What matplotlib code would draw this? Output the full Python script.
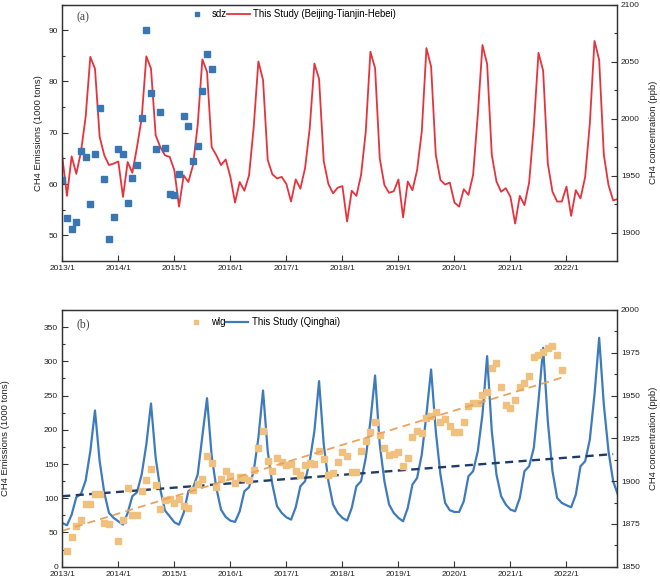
import numpy as np
import matplotlib
matplotlib.use("Agg")
import matplotlib.pyplot as plt
from matplotlib.ticker import MultipleLocator, FixedLocator, NullLocator

plt.rcParams['font.family'] = ['Liberation Sans', 'DejaVu Sans']

# ---------------- data ----------------
months = np.arange(120)  # 2013/1 ... 2022/12
year_ticks = [0, 12, 24, 36, 48, 60, 72, 84, 96, 108]
year_labels = ["2013/1", "2014/1", "2015/1", "2016/1", "2017/1",
               "2018/1", "2019/1", "2020/1", "2021/1", "2022/1"]

# Panel (a): Beijing-Tianjin-Hebei emissions (1000 tons)
bth_emis = [65.3, 57.7, 65.4, 62.0, 66.3, 73.1, 84.8, 82.5, 69.2, 65.6, 63.7, 64.0,
            64.4, 57.5, 64.3, 62.2, 67.2, 72.8, 84.9, 82.5, 69.5, 67.2, 65.6, 65.3,
            62.7, 55.6, 61.7, 60.4, 63.7, 71.5, 84.3, 81.9, 67.2, 65.6, 63.7, 64.8,
            61.4, 56.4, 60.4, 58.7, 61.7, 71.1, 83.9, 80.3, 64.7, 61.9, 61.1, 61.4,
            60.0, 56.6, 60.9, 59.1, 63.1, 70.9, 83.5, 80.5, 64.5, 60.0, 58.2, 59.3,
            59.6, 52.7, 58.7, 57.7, 61.8, 70.2, 85.8, 82.6, 65.0, 59.8, 58.3, 58.6,
            60.9, 53.5, 60.5, 58.8, 62.7, 70.2, 86.5, 82.9, 65.7, 60.8, 59.9, 60.3,
            56.4, 55.6, 59.0, 57.9, 61.8, 73.5, 87.1, 83.4, 65.7, 60.5, 58.5, 59.2,
            57.5, 52.3, 57.7, 55.9, 60.3, 71.2, 85.6, 82.1, 64.0, 58.5, 56.6, 56.6,
            59.5, 53.8, 58.8, 57.2, 61.4, 71.8, 87.9, 84.2, 65.7, 59.8, 56.8, 57.1]

# sdz station concentration (ppb)
sdz_month = list(range(33))
sdz_conc = [1946.0, 1912.4, 1903.4, 1909.2, 1971.8, 1965.9, 1925.4, 1969.1, 2009.1,
            1946.6, 1893.9, 1913.7, 1973.1, 1969.1, 1925.9, 1947.9, 1959.6, 2000.6,
            2077.5, 2022.6, 1973.1, 2005.5, 1974.0, 1933.5, 1932.6, 1951.5, 2001.9,
            1993.4, 1962.8, 1975.8, 2024.4, 2056.8, 2043.8]

# Panel (b): Qinghai emissions (1000 tons)
qh_emis = [64.0, 60.5, 76.1, 101.5, 106.3, 125.8, 168.7, 228.2, 154.1, 107.8, 78.6, 71.3,
           66.4, 61.5, 78.6, 103.0, 108.8, 134.6, 178.5, 238.4, 159.0, 112.7, 82.0, 73.7,
           64.9, 61.5, 78.6, 110.2, 115.1, 134.6, 190.6, 246.2, 161.4, 115.1, 83.4, 72.7,
           67.3, 65.4, 81.0, 110.2, 116.1, 139.5, 188.2, 257.4, 168.7, 120.0, 88.3, 78.6,
           72.2, 68.8, 86.8, 117.6, 124.9, 154.1, 198.0, 271.1, 178.5, 124.9, 90.8, 78.6,
           71.3, 67.3, 85.9, 117.6, 124.9, 159.0, 212.6, 279.3, 178.5, 124.9, 90.8, 78.6,
           71.3, 66.4, 85.9, 120.0, 129.7, 163.8, 222.3, 288.1, 198.0, 134.6, 93.2, 82.5,
           80.0, 80.0, 95.6, 132.2, 139.5, 168.7, 222.3, 307.6, 198.0, 134.6, 103.0, 90.8,
           83.4, 81.0, 100.5, 139.5, 146.8, 173.6, 241.8, 319.8, 212.6, 139.5, 100.5, 93.2,
           89.8, 86.8, 105.4, 146.8, 154.1, 185.8, 251.6, 334.4, 236.8, 168.7, 124.9, 105.4]

# wlg station concentration (ppb)
wlg_month = [1, 2, 3, 4, 5, 6, 7, 8, 9, 10, 12, 13, 14, 15, 16, 17, 18, 19, 20,
             21, 22, 23, 24, 25, 26, 27, 28, 29, 30, 31, 32, 33, 34, 35, 36, 37, 38,
             39, 40, 41, 42, 43, 44, 45, 46, 47, 48, 49, 50, 51, 52, 53, 54, 55, 56,
             57, 58, 59, 60, 61, 62, 63, 64, 65, 66, 67, 68, 69, 70, 71, 72, 73, 74,
             75, 76, 77, 78, 79, 80, 81, 82, 83, 84, 85, 86, 87, 88, 89, 90, 91, 92,
             93, 94, 95, 96, 97, 98, 99, 100, 101, 102, 103, 104, 105, 106, 107]
wlg_conc = [1859.3, 1867.1, 1873.8, 1877.3, 1886.6, 1886.6, 1892.5, 1892.5, 1875.7,
            1874.7, 1864.8, 1877.3, 1895.8, 1880.2, 1880.4, 1894.2, 1900.6, 1907.1,
            1897.5, 1883.7, 1889.0, 1889.7, 1887.0, 1889.5, 1885.2, 1884.1, 1894.8,
            1898.1, 1901.0, 1914.9, 1910.6, 1896.7, 1901.2, 1906.1, 1903.2, 1899.1,
            1902.6, 1902.0, 1900.5, 1906.5, 1919.2, 1929.3, 1911.7, 1906.1, 1913.3,
            1911.4, 1909.4, 1910.0, 1906.1, 1903.6, 1909.4, 1910.4, 1909.8, 1917.6,
            1912.9, 1903.6, 1904.9, 1911.4, 1916.8, 1914.9, 1905.1, 1905.1, 1917.6,
            1923.4, 1928.5, 1934.7, 1926.9, 1919.5, 1915.3, 1915.6, 1917.2, 1909.0,
            1913.7, 1926.0, 1929.3, 1927.9, 1936.7, 1938.2, 1940.6, 1934.7, 1936.1,
            1932.4, 1928.5, 1928.5, 1934.3, 1943.9, 1945.8, 1945.8, 1950.3, 1951.9,
            1966.3, 1969.2, 1955.2, 1944.5, 1942.5, 1947.4, 1955.0, 1957.1, 1961.6,
            1972.3, 1973.7, 1975.6, 1977.6, 1979.0, 1973.7, 1964.7]

# trend lines (end points)
qh_trend_month = [0, 118]
qh_trend = [103.0, 164.5]
wlg_trend_month = [0, 107]
wlg_trend = [1871.0, 1960.5]

# ---------------- styling ----------------
RED = "#E5333D"
BLUE = "#3D7BBD"
SDZ = "#3A77B2"
WLG = "#F0C07E"
ORANGE_D = "#E9A35F"
DARK_D = "#1F3D66"
SPINE = "#333333"

TICK_FS = 6.0
LAB_FS = 6.8
LEG_FS = 6.9

fig = plt.figure(figsize=(6.6, 5.79), dpi=100)
ax1 = fig.add_axes([0.0944, 0.5492, 0.8403, 0.4430])
ax2 = fig.add_axes([0.0944, 0.0212, 0.8403, 0.4434])


def style_axes(ax, axr):
    for a in (ax, axr):
        for s in a.spines.values():
            s.set_color(SPINE)
            s.set_linewidth(0.9)
    ax.set_xlim(0, 118.8)
    ax.xaxis.set_major_locator(FixedLocator(year_ticks))
    ax.set_xticklabels(year_labels)
    ax.xaxis.set_minor_locator(NullLocator())
    ax.tick_params(axis='x', which='major', direction='in', length=4, width=0.8,
                   labelsize=TICK_FS, pad=3, top=False, colors=SPINE, labelcolor='#222222')
    ax.tick_params(axis='y', which='both', direction='in', right=False, width=0.8,
                   labelsize=TICK_FS, colors=SPINE, labelcolor='#222222', pad=3)
    ax.tick_params(axis='y', which='major', length=4)
    ax.tick_params(axis='y', which='minor', length=2.5)
    axr.tick_params(axis='y', which='both', direction='in', left=False, width=0.8,
                    labelsize=TICK_FS, colors=SPINE, labelcolor='#222222', pad=3)
    axr.tick_params(axis='y', which='major', length=4)
    axr.tick_params(axis='y', which='minor', length=2.5)


# ---------------- panel (a) ----------------
ax1r = ax1.twinx()
ln1, = ax1.plot(months, bth_emis, color=RED, lw=1.3,
                label="This Study (Beijing-Tianjin-Hebei)")
sc1, = ax1r.plot(sdz_month, sdz_conc, ls='none', marker='s', ms=4.4,
                 color=SDZ, mec=SDZ, label="sdz")
ax1.set_ylim(45, 95)
ax1.yaxis.set_major_locator(MultipleLocator(10))
ax1.yaxis.set_minor_locator(MultipleLocator(5))
ax1r.set_ylim(1875, 2100)
ax1r.yaxis.set_major_locator(MultipleLocator(50))
ax1r.yaxis.set_minor_locator(MultipleLocator(25))
style_axes(ax1, ax1r)
ax1.set_ylabel("CH4 Emissions (1000 tons)", fontsize=LAB_FS, color='#222222')
ax1.yaxis.set_label_coords(-0.035, 0.5)
ax1r.set_ylabel("CH4 concentration (ppb)", fontsize=LAB_FS, color='#222222')
ax1r.yaxis.set_label_coords(1.057, 0.5)
ax1.text(0.025, 0.952, "(a)", transform=ax1.transAxes, fontsize=8.5,
         family=['Liberation Serif', 'DejaVu Serif'], color='#444444',
         ha='left', va='center')
ax1r.legend([sc1, ln1], ["sdz", "This Study (Beijing-Tianjin-Hebei)"],
            loc='upper left', bbox_to_anchor=(0.223, 0.983), ncol=2,
            frameon=False, fontsize=LEG_FS, borderpad=0, borderaxespad=0,
            handlelength=2.3, handletextpad=0.4, columnspacing=0.05,
            markerscale=0.8)

# ---------------- panel (b) ----------------
ax2r = ax2.twinx()
ln2, = ax2.plot(months, qh_emis, color=BLUE, lw=1.6, label="This Study (Qinghai)")
ax2.plot(qh_trend_month, qh_trend, color=DARK_D, lw=1.7, ls=(0, (3.4, 2.3)))
sc2, = ax2r.plot(wlg_month, wlg_conc, ls='none', marker='s', ms=4.3,
                 color=WLG, mec=WLG, label="wlg")
ax2r.plot(wlg_trend_month, wlg_trend, color=ORANGE_D, lw=1.3, ls=(0, (4.4, 2.9)))
ax2.set_ylim(0, 375)
ax2.yaxis.set_major_locator(MultipleLocator(50))
ax2.yaxis.set_minor_locator(MultipleLocator(25))
ax2r.set_ylim(1850, 2000)
ax2r.yaxis.set_major_locator(MultipleLocator(25))
ax2r.yaxis.set_minor_locator(MultipleLocator(12.5))
style_axes(ax2, ax2r)
ax2.set_ylabel("CH4 Emissions (1000 tons)", fontsize=LAB_FS, color='#222222')
ax2.yaxis.set_label_coords(-0.094, 0.5)
ax2r.set_ylabel("CH4 concentration (ppb)", fontsize=LAB_FS, color='#222222')
ax2r.yaxis.set_label_coords(1.057, 0.5)
ax2.text(0.025, 0.945, "(b)", transform=ax2.transAxes, fontsize=8.5,
         family=['Liberation Serif', 'DejaVu Serif'], color='#444444',
         ha='left', va='center')
ax2r.legend([sc2, ln2], ["wlg", "This Study (Qinghai)"],
            loc='upper left', bbox_to_anchor=(0.221, 0.972), ncol=2,
            frameon=False, fontsize=LEG_FS, borderpad=0, borderaxespad=0,
            handlelength=2.3, handletextpad=0.4, columnspacing=0.05,
            markerscale=0.75)

fig.savefig("out.png", dpi=100)
